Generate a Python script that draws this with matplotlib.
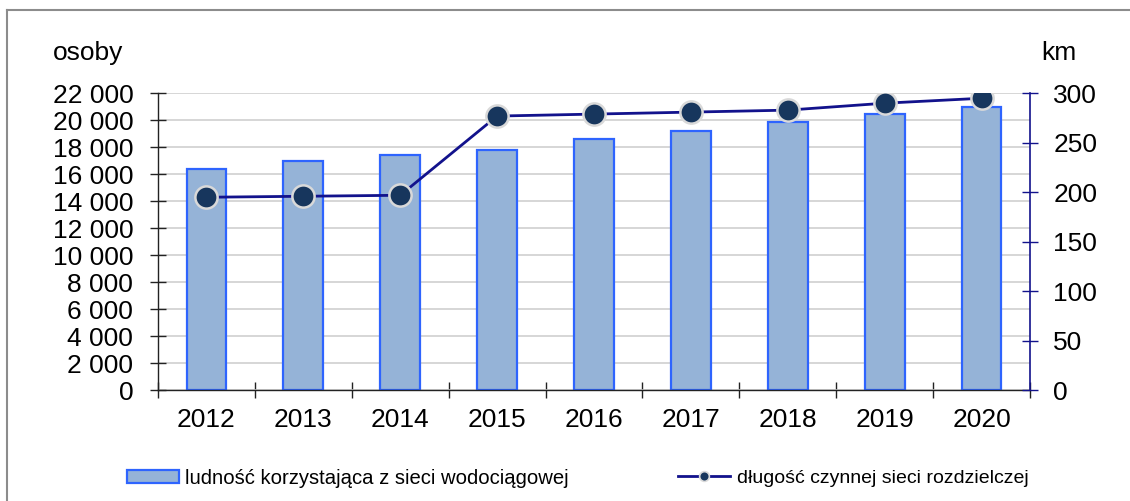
import matplotlib
matplotlib.use("Agg")
import matplotlib.pyplot as plt
from matplotlib.lines import Line2D
from matplotlib.patches import Patch
import numpy as np

years = ["2012", "2013", "2014", "2015", "2016", "2017", "2018", "2019", "2020"]
ludnosc = [16400, 17000, 17400, 17800, 18600, 19200, 19850, 20500, 20950]
dlugosc = [195, 196, 197, 277, 279, 281, 283, 290, 295]

left_ticks = list(range(0, 22001, 2000))
right_ticks = list(range(0, 301, 50))

label_bar = "ludność korzystająca z sieci wodociągowej"
label_line = "długość czynnej sieci rozdzielczej"

plt.rcParams['font.family'] = ['Liberation Sans', 'DejaVu Sans']

W, H = 1130, 501
fig = plt.figure(figsize=(W / 100, H / 100), dpi=100)

ax_l, ax_r, ax_t, ax_b = 158, 1030, 93.3, 390.3
ax = fig.add_axes([ax_l / W, (H - ax_b) / H, (ax_r - ax_l) / W, (ax_b - ax_t) / H])

x = np.arange(len(years))
bar_fc = "#95B3D7"
bar_ec = "#2E64FE"
ax.bar(x, ludnosc, width=0.41, color=bar_fc, edgecolor=bar_ec, linewidth=1.6, zorder=2)

ax.set_xlim(-0.5, len(years) - 0.5)
ax.set_ylim(0, 22000)
ax.set_yticks(left_ticks)
ax.set_yticklabels([f"{v:,}".replace(",", " ") for v in left_ticks])
ax.yaxis.grid(True, color="#cfcfcf", linewidth=1.2, zorder=0)
ax.set_axisbelow(True)

ax.set_xticks(x)
ax.set_xticklabels(years)
ax.set_xticks(np.arange(-0.5, len(years), 1.0), minor=True)
ax.tick_params(axis="x", which="major", length=0, pad=13, labelsize=19)
ax.tick_params(axis="x", which="minor", direction="inout", length=11.5, width=1.0, color="#222222")
ax.tick_params(axis="y", direction="inout", length=11.5, width=1.0, pad=12, labelsize=19, color="#222222")

for s in ["top", "right"]:
    ax.spines[s].set_visible(False)
ax.spines["left"].set_color("#222222")
ax.spines["bottom"].set_color("#222222")
ax.spines["left"].set_linewidth(1.0)
ax.spines["bottom"].set_linewidth(1.0)

ax2 = ax.twinx()
ax2.set_ylim(0, 300)
ax2.set_yticks(right_ticks)
navy = "#12128C"
ax2.plot(x, dlugosc, color=navy, linewidth=2.0, marker="o", markersize=16,
         markerfacecolor="#17365D", markeredgecolor="#D9D9D9", markeredgewidth=1.8, zorder=5)
ax2.tick_params(axis="y", direction="inout", length=11.5, width=1.0, pad=11, labelsize=19, color=navy)
for s in ["top", "left", "bottom"]:
    ax2.spines[s].set_visible(False)
ax2.spines["right"].set_color(navy)
ax2.spines["right"].set_linewidth(1.2)

fig.text(53 / W, (H - 53) / H, "osoby", fontsize=19, ha="left", va="center")
fig.text(1041 / W, (H - 53) / H, "km", fontsize=19, ha="left", va="center")

# outer frame
fig.add_artist(Line2D([7 / W, 7 / W], [0, (H - 10) / H], color="#8c8c8c", linewidth=1.5, transform=fig.transFigure))
fig.add_artist(Line2D([7 / W, 1.0], [(H - 10) / H, (H - 10) / H], color="#8c8c8c", linewidth=1.5, transform=fig.transFigure))

h_bar = Patch(facecolor=bar_fc, edgecolor=bar_ec, linewidth=1.6)
h_line = Line2D([], [], color=navy, linewidth=2.0, marker="o", markersize=7,
                markerfacecolor="#17365D", markeredgecolor="#D9D9D9", markeredgewidth=1.2)

leg1 = fig.legend([h_bar], [label_bar], loc="center left", bbox_to_anchor=(127 / W, (H - 478) / H),
                  frameon=False, fontsize=14.6, handlelength=2.56, handleheight=0.59, handletextpad=0.3,
                  borderpad=0, borderaxespad=0)
leg2 = fig.legend([h_line], [label_line], loc="center left", bbox_to_anchor=(678 / W, (H - 478) / H),
                  frameon=False, fontsize=14, handlelength=2.68, handletextpad=0.36,
                  borderpad=0, borderaxespad=0)

fig.savefig("out.png", dpi=100)
